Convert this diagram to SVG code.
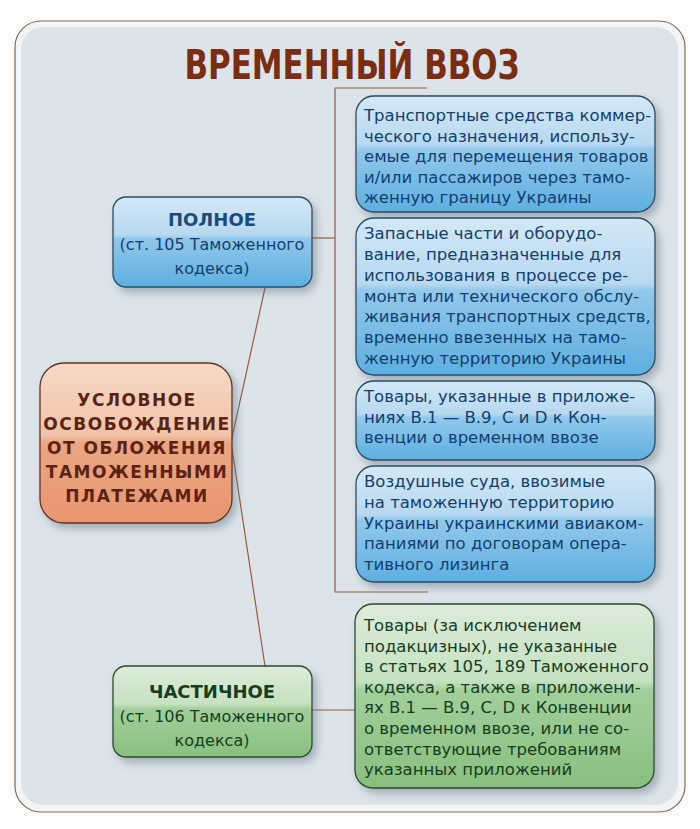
<svg xmlns="http://www.w3.org/2000/svg" width="700" height="829" viewBox="0 0 700 829">
<defs>
<linearGradient id="gBlue" x1="0" y1="0" x2="0" y2="1">
<stop offset="0" stop-color="#d4e8f6"/>
<stop offset="0.42" stop-color="#b7d8f0"/>
<stop offset="0.46" stop-color="#93c8ea"/>
<stop offset="1" stop-color="#5dafe0"/>
</linearGradient>
<linearGradient id="gOrange" x1="0" y1="0" x2="0" y2="1">
<stop offset="0" stop-color="#f6d9c6"/>
<stop offset="0.45" stop-color="#f1c3a7"/>
<stop offset="0.5" stop-color="#eba583"/>
<stop offset="1" stop-color="#e8966f"/>
</linearGradient>
<linearGradient id="gGreen" x1="0" y1="0" x2="0" y2="1">
<stop offset="0" stop-color="#dcecd9"/>
<stop offset="0.42" stop-color="#c6e1c1"/>
<stop offset="0.47" stop-color="#a2cf9b"/>
<stop offset="1" stop-color="#88c07f"/>
</linearGradient>
<filter id="shadow" x="-10%" y="-10%" width="130%" height="130%">
<feDropShadow dx="4" dy="5" stdDeviation="4" flood-color="#5a6a7a" flood-opacity="0.45"/>
</filter>
</defs>
<style>
.conn{fill:none;stroke:#9a5a3c;stroke-width:1.2}
.bbox{fill:url(#gBlue);stroke:#2b4b63;stroke-width:1.3;filter:url(#shadow)}
.gbox{fill:url(#gGreen);stroke:#2c4a2e;stroke-width:1.3;filter:url(#shadow)}
.obox{fill:url(#gOrange);stroke:#5e3522;stroke-width:1.3;filter:url(#shadow)}
.bt{font-family:"DejaVu Sans",sans-serif;font-size:16.5px;fill:#123f70}
.gt{font-family:"DejaVu Sans",sans-serif;font-size:16.5px;fill:#163d1d}
.hb{font-family:"DejaVu Sans",sans-serif;font-size:18px;font-weight:bold;fill:#1b4a7e;text-anchor:middle}
.hg{font-family:"DejaVu Sans",sans-serif;font-size:18px;font-weight:bold;fill:#163d1d;text-anchor:middle}
.sb{font-family:"DejaVu Sans",sans-serif;font-size:16px;fill:#123f70;text-anchor:middle}
.sg{font-family:"DejaVu Sans",sans-serif;font-size:16px;fill:#163d1d;text-anchor:middle}
.ot{font-family:"DejaVu Sans",sans-serif;font-size:17px;font-weight:bold;fill:#5b2412;text-anchor:middle;letter-spacing:1.5px}
</style>
<g id="frame">
<rect x="15" y="21" width="670" height="791" rx="26" fill="#f3f6f8" stroke="#8e6a52" stroke-width="1.2"/>
<rect x="21" y="27" width="657" height="778" rx="22" fill="#dce4ea"/>
</g>
<text id="title" x="352" y="79" text-anchor="middle" font-family="'DejaVu Sans Condensed','DejaVu Sans',sans-serif" font-weight="bold" font-size="40" fill="#7b2d12" textLength="335" lengthAdjust="spacingAndGlyphs">ВРЕМЕННЫЙ ВВОЗ</text>
<g id="connectors">
<polyline class="conn" points="427,88 335,88 335,592 428,592"/>
<line class="conn" x1="312" y1="238" x2="335" y2="238"/>
<polyline class="conn" points="265,288 231,442 265,666"/>
<line class="conn" x1="312" y1="710" x2="355" y2="710"/>
</g>
<g id="node-center">
<rect class="obox" x="40" y="363" width="192" height="160" rx="24"/>
<text class="ot" x="137" y="406">УСЛОВНОЕ</text>
<text class="ot" x="137" y="430">ОСВОБОЖДЕНИЕ</text>
<text class="ot" x="137" y="454">ОТ ОБЛОЖЕНИЯ</text>
<text class="ot" x="137" y="478">ТАМОЖЕННЫМИ</text>
<text class="ot" x="137" y="502">ПЛАТЕЖАМИ</text>
</g>
<g id="node-full">
<rect class="bbox" x="113" y="197" width="199" height="90" rx="13"/>
<text class="hb" x="212" y="226">ПОЛНОЕ</text>
<text class="sb" x="212" y="250">(ст. 105 Таможенного</text>
<text class="sb" x="212" y="274">кодекса)</text>
</g>
<g id="node-partial">
<rect class="gbox" x="113" y="666" width="199" height="91" rx="13"/>
<text class="hg" x="212" y="698">ЧАСТИЧНОЕ</text>
<text class="sg" x="212" y="722">(ст. 106 Таможенного</text>
<text class="sg" x="212" y="746">кодекса)</text>
</g>
<g id="node-b1">
<rect class="bbox" x="356" y="96" width="299" height="116" rx="18"/>
<text class="bt" x="364" y="121">Транспортные средства коммер-</text>
<text class="bt" x="364" y="141.5">ческого назначения, использу-</text>
<text class="bt" x="364" y="162">емые для перемещения товаров</text>
<text class="bt" x="364" y="182.5">и/или пассажиров через тамо-</text>
<text class="bt" x="364" y="203">женную границу Украины</text>
</g>
<g id="node-b2">
<rect class="bbox" x="356" y="218" width="299" height="157" rx="18"/>
<text class="bt" x="364" y="239">Запасные части и оборудо-</text>
<text class="bt" x="364" y="260">вание, предназначенные для</text>
<text class="bt" x="364" y="281">использования в процессе ре-</text>
<text class="bt" x="364" y="302">монта или технического обслу-</text>
<text class="bt" x="364" y="322">живания транспортных средств,</text>
<text class="bt" x="364" y="343">временно ввезенных на тамо-</text>
<text class="bt" x="364" y="364">женную территорию Украины</text>
</g>
<g id="node-b3">
<rect class="bbox" x="356" y="381" width="299" height="79" rx="18"/>
<text class="bt" x="364" y="402">Товары, указанные в приложе-</text>
<text class="bt" x="364" y="423">ниях В.1 — В.9, С и D к Кон-</text>
<text class="bt" x="364" y="443">венции о временном ввозе</text>
</g>
<g id="node-b4">
<rect class="bbox" x="356" y="466" width="299" height="116" rx="18"/>
<text class="bt" x="364" y="487">Воздушные суда, ввозимые</text>
<text class="bt" x="364" y="508">на таможенную территорию</text>
<text class="bt" x="364" y="529">Украины украинскими авиаком-</text>
<text class="bt" x="364" y="549">паниями по договорам опера-</text>
<text class="bt" x="364" y="570">тивного лизинга</text>
</g>
<g id="node-g1">
<rect class="gbox" x="355" y="604" width="299" height="184" rx="18"/>
<text class="gt" x="364" y="631">Товары (за исключением</text>
<text class="gt" x="364" y="651.6">подакцизных), не указанные</text>
<text class="gt" x="364" y="672.2">в статьях 105, 189 Таможенного</text>
<text class="gt" x="364" y="692.8">кодекса, а также в приложени-</text>
<text class="gt" x="364" y="713.4">ях В.1 — В.9, С, D к Конвенции</text>
<text class="gt" x="364" y="734">о временном ввозе, или не со-</text>
<text class="gt" x="364" y="754.6">ответствующие требованиям</text>
<text class="gt" x="364" y="775.2">указанных приложений</text>
</g>
</svg>
